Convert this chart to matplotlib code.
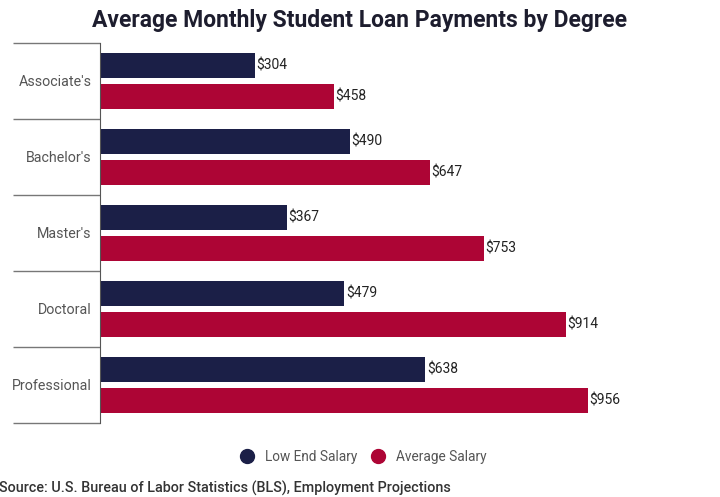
import matplotlib.pyplot as plt
from matplotlib.lines import Line2D
import numpy as np

plt.rcParams['font.family'] = ['Roboto', 'DejaVu Sans']

degrees = ["Associate's", "Bachelor's", "Master's", "Doctoral", "Professional"]
low_end = [304, 490, 367, 479, 638]
average = [458, 647, 753, 914, 956]

navy = "#1b1f47"
crimson = "#ad0535"

fig = plt.figure(figsize=(7.2, 4.97), dpi=100)
ax = fig.add_axes([100 / 720, 1 - 423 / 497, 612 / 720, 380 / 497])

y = np.arange(len(degrees))
h = 0.33
off = 0.205
b1 = ax.barh(y - off, low_end, height=h, color=navy)
b2 = ax.barh(y + off, average, height=h, color=crimson)

for bars, vals in ((b1, low_end), (b2, average)):
    for bar, v in zip(bars, vals):
        ax.text(bar.get_width() + 3, bar.get_y() + bar.get_height() / 2, f"${v}",
                va="center", ha="left", fontsize=10, color="#222222")

ax.set_xlim(0, 1200)
ax.set_ylim(len(degrees) - 0.5, -0.5)

ax.set_yticks(y)
ax.set_yticklabels(degrees, fontsize=10.3, color="#555555")
ax.tick_params(axis="y", which="major", length=0, pad=6)
ax.set_yticks(np.arange(-0.5, len(degrees), 1), minor=True)
ax.tick_params(axis="y", which="minor", length=63, width=1, color="#777777")
ax.set_xticks([])

for s in ("top", "right", "bottom"):
    ax.spines[s].set_visible(False)
ax.spines["left"].set_color("#555555")

fig.text(0.5, 1 - 20 / 497, "Average Monthly Student Loan Payments by Degree",
         ha="center", va="center", fontsize=16.5, fontweight="bold", color="#1d1d2e")

handles = [
    Line2D([], [], marker="o", linestyle="", markersize=10, color=navy, label="Low End Salary"),
    Line2D([], [], marker="o", linestyle="", markersize=10, color=crimson, label="Average Salary"),
]
fig.legend(handles=handles, loc="center", bbox_to_anchor=(0.5, 1 - 457 / 497), ncol=2,
           frameon=False, fontsize=9.8, labelcolor="#555555", handletextpad=0.3,
           columnspacing=0.5)

fig.text(-0.002, 1 - 488 / 497, "Source: U.S. Bureau of Labor Statistics (BLS), Employment Projections",
         ha="left", va="center", fontsize=10.4, fontweight="medium", color="#333333")

fig.savefig("out.png", dpi=100)
